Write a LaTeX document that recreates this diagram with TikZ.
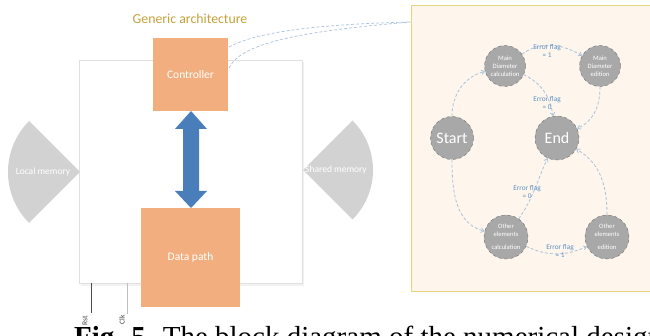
\documentclass[tikz,border=0pt]{standalone}
\usepackage{fontspec}
\setmainfont{Carlito}
\newfontfamily\capfont{Liberation Serif}
\usetikzlibrary{arrows.meta}
\definecolor{peach}{HTML}{F2AE7E}
\definecolor{arrowblue}{HTML}{4A7EBB}
\definecolor{memgray}{HTML}{D2D2D2}
\definecolor{stategray}{HTML}{A8A8A8}
\definecolor{stateborder}{HTML}{6E6E6E}
\definecolor{linkblue}{HTML}{A9C3DC}
\definecolor{labelblue}{HTML}{5B8FC4}
\definecolor{panelfill}{HTML}{FEF5EC}
\definecolor{panelborder}{HTML}{E6D47E}
\definecolor{titlegold}{HTML}{C4A23C}
\tikzset{
  block/.style={fill=peach, draw=none, text=white, font=\fontsize{11.5}{13}\selectfont},
  state/.style={circle, fill=stategray, draw=stateborder, dashed, line width=0.4pt, inner sep=0pt, text=white, align=center, font=\fontsize{6.6}{8.2}\selectfont},
  bigstate/.style={state, font=\fontsize{16}{18}\selectfont},
  link/.style={draw=linkblue, line width=0.8pt, dash pattern=on 3pt off 2pt, -{Straight Barb[length=3pt,width=4.5pt]}},
  flag/.style={text=labelblue, align=center, font=\fontsize{7.3}{8}\selectfont, inner sep=0pt},
  memtext/.style={text=white, font=\fontsize{9.5}{11}\selectfont, inner sep=0pt},
  sig/.style={rotate=90, font=\fontsize{7.5}{9}\selectfont, inner sep=0pt, text=black!75}
}
\begin{document}
\begin{tikzpicture}[x=1pt,y=-1pt]
\useasboundingbox (0,0) rectangle (650,336);
\clip (0,0) rectangle (650,336);
\fill[white] (0,0) rectangle (650,336);

% title
\node[text=titlegold, font=\fontsize{13.8}{15}\selectfont] (title) at (190,19) {Generic architecture};

% main rectangle
\fill[black!5] (81,62) rectangle (304,286);
\draw[draw=black!12, fill=white, line width=0.5pt] (79,60) rectangle (302,283);

% signals
\coordinate (rsttop) at (91,283);
\coordinate (rstbot) at (91,313);
\coordinate (clktop) at (127,283);
\coordinate (clkbot) at (127,314);
\draw[black!70, line width=0.5pt] (rsttop) -- (rstbot);
\draw[black!25, line width=0.5pt] (clktop) -- (clkbot);
\node[sig] (rst) at (85,321) {Rst};
\node[sig] (clk) at (122,320) {Clk};

% memories
\fill[memgray] (80,172) -- ++(135:72) arc[start angle=135, end angle=225, radius=72] -- cycle;
\node[memtext] (lm) at (43,172) {Local memory};
\fill[memgray] (303,170) -- ++(45:70) arc[start angle=45, end angle=-45, radius=70] -- cycle;
\node[memtext] (sm) at (336,170) {Shared memory};

% blocks
\node[block, minimum width=75pt, minimum height=73pt] (ctrl) at (190.5,74.5) {Controller};
\node[block, minimum width=99pt, minimum height=99pt] (dp) at (190.5,257.5) {Data path};

% double arrow
\fill[arrowblue] (191,111) -- (207,129) -- (199,129) -- (199,191) -- (207,191) -- (191,208)
  -- (175,191) -- (183,191) -- (183,129) -- (175,129) -- cycle;

% right panel
\draw[draw=panelborder, fill=panelfill, line width=1pt] (411,6) rectangle (670,292);

% connectors controller -> panel
\coordinate (pin) at (411,22);
\draw[linkblue, line width=0.7pt, dash pattern=on 3pt off 2pt] (229,47) .. controls (260,30) and (330,24) .. (pin);
\draw[linkblue, line width=0.7pt, dash pattern=on 3pt off 2pt] (229,68) .. controls (240,45) and (290,32) .. (pin);

% states
\node[state, minimum size=41pt] (mc) at (505,66) {Main\\Diameter\\calculation};
\node[state, minimum size=41pt] (me) at (600,66) {Main\\Diameter\\edition};
\node[bigstate, minimum size=43pt] (st) at (452,138) {Start};
\node[bigstate, minimum size=44pt] (en) at (557,138) {End};
\node[state, minimum size=44pt] (oc) at (506,237) {Other\\elements\\[5pt]calculation};
\node[state, minimum size=44pt] (oe) at (607,237) {Other\\elements\\[5pt]edition};

% transitions
\draw[link] (st) to[out=90, in=195] (mc);
\draw[link] (mc) to[out=35, in=150] (me);
\draw[link] (mc) to[out=-25, in=100] (en);
\draw[link] (me) to[out=-90, in=25] (en);
\draw[link] (st) to[out=-90, in=165] (oc);
\draw[link] (oc) to[out=55, in=-115] (en);
\draw[link] (oc) to[out=-25, in=205] (oe);
\draw[link] (oe) to[out=90, in=-30] (en);

\node[flag] (f1) at (547,51) {Error flag\\= 1};
\node[flag] (f2) at (547,103) {Error flag\\= 0};
\node[flag] (f3) at (527,192) {Error flag\\= 0};
\node[flag] (f4) at (560,251) {Error flag\\= 1};

% caption
\node[anchor=base west, inner sep=0pt, font=\capfont\fontsize{29}{32}\selectfont] (cap) at (74,346) {\textbf{Fig. 5.} The block diagram of the numerical design};
\end{tikzpicture}
\end{document}
